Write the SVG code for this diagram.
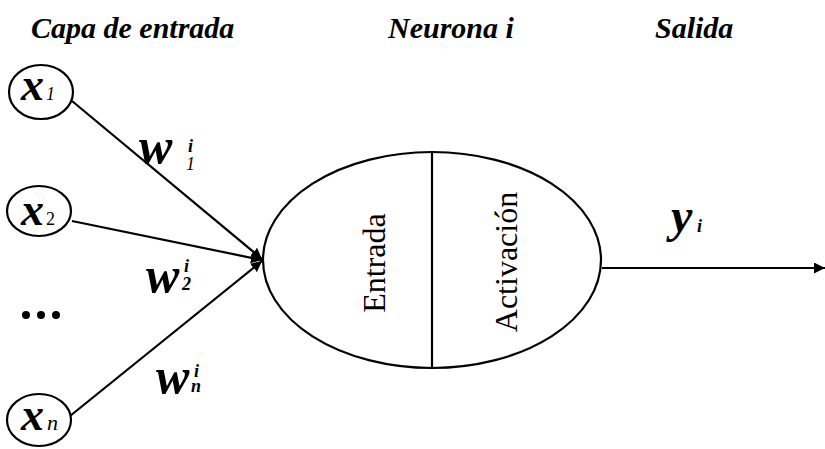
<svg xmlns="http://www.w3.org/2000/svg" width="825" height="449" viewBox="0 0 825 449">
<defs>
<marker id="ah" viewBox="0 0 10 10" refX="10" refY="5" markerWidth="5" markerHeight="5" orient="auto" markerUnits="strokeWidth">
<path d="M0,0 L10,5 L0,10 z" fill="#000"/>
</marker>
</defs>
<g id="titles" font-family="Liberation Serif" font-weight="bold" font-style="italic" font-size="30" fill="#000">
<text x="31" y="38">Capa de entrada</text>
<text x="388" y="38">Neurona i</text>
<text x="655" y="38">Salida</text>
</g>
<g id="connectors" stroke="#000" stroke-width="2.2" fill="none">
<line x1="72" y1="101" x2="262" y2="259" marker-end="url(#ah)"/>
<line x1="72" y1="221" x2="262" y2="260" marker-end="url(#ah)"/>
<line x1="70" y1="416" x2="262" y2="261" marker-end="url(#ah)"/>
<line x1="602" y1="268" x2="825" y2="268" marker-end="url(#ah)"/>
</g>
<g id="x1">
<ellipse cx="41" cy="92" rx="32" ry="27" fill="#fff" stroke="#000" stroke-width="2.2"/>
<text x="21" y="100" font-size="46" font-family="Liberation Serif" font-weight="bold" font-style="italic">x</text>
<text x="46" y="100" font-size="18" font-family="Liberation Serif" font-style="italic">1</text>
</g>
<g id="x2">
<ellipse cx="39" cy="211" rx="32" ry="25" fill="#fff" stroke="#000" stroke-width="2.2"/>
<text x="21" y="225" font-size="46" font-family="Liberation Serif" font-weight="bold" font-style="italic">x</text>
<text x="46" y="225" font-size="18" font-family="Liberation Serif">2</text>
</g>
<g id="dots">
<circle cx="26" cy="315" r="4"/>
<circle cx="41" cy="315" r="4"/>
<circle cx="56" cy="315" r="4"/>
</g>
<g id="xn">
<ellipse cx="39" cy="420" rx="32" ry="26" fill="#fff" stroke="#000" stroke-width="2.2"/>
<text x="21" y="430" font-size="46" font-family="Liberation Serif" font-weight="bold" font-style="italic">x</text>
<text x="47" y="430" font-size="22" font-family="Liberation Serif" font-style="italic">n</text>
</g>
<g id="weights" font-family="Liberation Serif" font-weight="bold" font-style="italic">
<text x="139" y="163" font-size="50">w</text>
<text x="186" y="170" font-size="18" font-weight="normal">1</text>
<text x="188" y="152" font-size="18">i</text>
<text x="146" y="292" font-size="50">w</text>
<text x="182" y="290" font-size="18">2</text>
<text x="184" y="272" font-size="18">i</text>
<text x="156" y="393" font-size="50">w</text>
<text x="191" y="392" font-size="18">n</text>
<text x="194" y="377" font-size="18">i</text>
</g>
<g id="neuron">
<ellipse cx="432" cy="260" rx="169" ry="108" fill="#fff" stroke="#000" stroke-width="2.2"/>
<line x1="432" y1="152" x2="432" y2="368" stroke="#000" stroke-width="2.2"/>
<text font-size="32" text-anchor="middle" transform="translate(385,263) rotate(-90)" font-family="Liberation Serif">Entrada</text>
<text font-size="32" text-anchor="middle" transform="translate(517,262) rotate(-90)" font-family="Liberation Serif">Activaci&#243;n</text>
</g>
<g id="output" font-family="Liberation Serif" font-weight="bold" font-style="italic">
<text x="671" y="232" font-size="48">y</text>
<text x="697" y="232" font-size="18">i</text>
</g>
</svg>
